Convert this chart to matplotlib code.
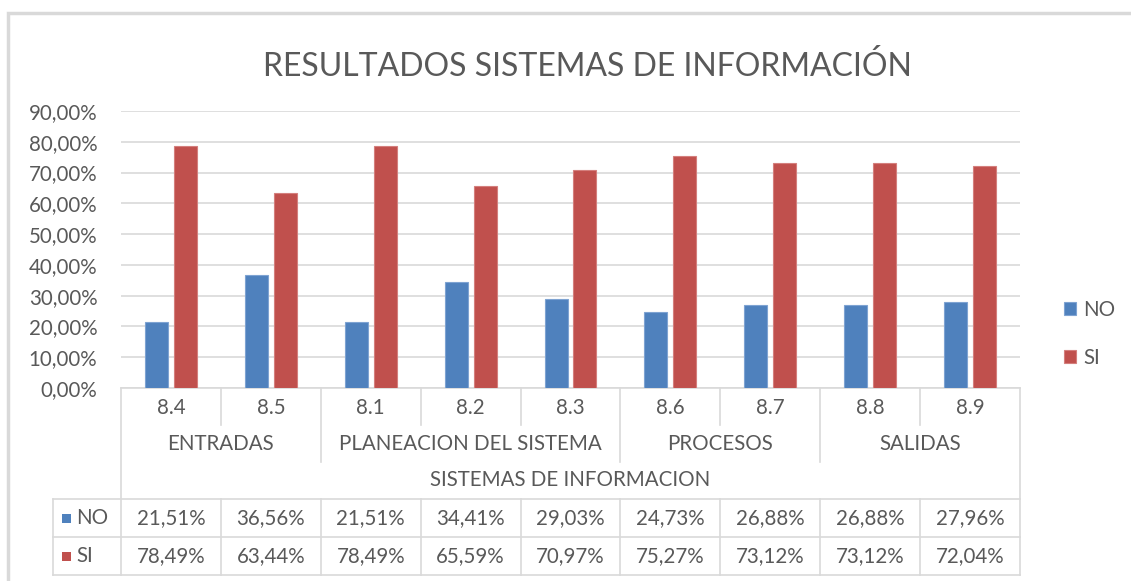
import matplotlib
matplotlib.use("Agg")
import matplotlib.pyplot as plt
import matplotlib.transforms as mtransforms
from matplotlib.patches import Rectangle
import numpy as np

plt.rcParams['font.family'] = ['Lato', 'DejaVu Sans']

# ---- data ----
title = "RESULTADOS SISTEMAS DE INFORMACIÓN"
categories = ["8.4", "8.5", "8.1", "8.2", "8.3", "8.6", "8.7", "8.8", "8.9"]
groups = ["ENTRADAS", "PLANEACION DEL SISTEMA", "PROCESOS", "SALIDAS"]
group_sizes = [2, 3, 2, 2]
top_label = "SISTEMAS DE INFORMACION"
series_names = ["NO", "SI"]
no_values = [21.51, 36.56, 21.51, 34.41, 29.03, 24.73, 26.88, 26.88, 27.96]
si_values = [78.49, 63.44, 78.49, 65.59, 70.97, 75.27, 73.12, 73.12, 72.04]
y_ticks = [0, 10, 20, 30, 40, 50, 60, 70, 80, 90]

# ---- style ----
W, H = 1131, 581
BLUE = "#4F81BD"
RED = "#C0504D"
TXT = "#595959"
GRID = "#D9D9D9"
FS = 14.8

def fx(px):
    return px / W

def fy(py):
    return 1 - py / H

fig = plt.figure(figsize=(W / 100, H / 100), dpi=100)
fig.patch.set_facecolor("white")

# outer chart border
fig.add_artist(Rectangle((fx(8), fy(1000)), 2, fy(13) - fy(1000), transform=fig.transFigure,
                         fill=False, edgecolor=GRID, linewidth=2.5))

ax = fig.add_axes([fx(121), fy(388), fx(1020) - fx(121), fy(111) - fy(388)])
n = len(categories)
x = np.arange(n)
bw = 0.23
off = 0.145
b1 = ax.bar(x - off, np.array(no_values) / 100, bw, color=BLUE, edgecolor="#7EA3D2",
            linewidth=0.8, label=series_names[0], zorder=3)
b2 = ax.bar(x + off, np.array(si_values) / 100, bw, color=RED, edgecolor="#D47F7D",
            linewidth=0.8, label=series_names[1], zorder=3)

ax.set_xlim(-0.5, n - 0.5)
ax.set_ylim(0, 0.9)
ax.set_yticks([v / 100 for v in y_ticks])
ax.set_yticklabels([f"{v:.2f}%".replace(".", ",") for v in y_ticks], color=TXT, fontsize=FS)
ax.tick_params(axis="y", length=0, pad=17)
ax.set_xticks([])
ax.yaxis.grid(True, color=GRID, linewidth=1.2)
ax.set_axisbelow(True)
for s in ["top", "right", "left"]:
    ax.spines[s].set_visible(False)
ax.spines["bottom"].set_color(GRID)
ax.spines["bottom"].set_linewidth(1.2)

# ---- data table below axis ----
blend = mtransforms.blended_transform_factory(ax.transData, fig.transFigure)
colw = 899.0 / n
left_col = -0.5 - (121 - 53) / colw

def vline(xd, y0, y1):
    ax.plot([xd, xd], [fy(y0), fy(y1)], color=GRID, lw=1.2, transform=blend, clip_on=False)

def hline(x0, x1, yp):
    ax.plot([x0, x1], [fy(yp), fy(yp)], color=GRID, lw=1.2, transform=blend, clip_on=False)

# group boundaries
bounds = np.cumsum(group_sizes)[:-1]
for i in range(1, n):
    if i in bounds:
        vline(i - 0.5, 388, 462)
    else:
        vline(i - 0.5, 388, 425)
    vline(i - 0.5, 499, 575)
vline(-0.5, 388, 575)
vline(n - 0.5, 388, 575)
vline(left_col, 499, 575)
for yp in [499, 537, 575]:
    hline(left_col, n - 0.5, yp)

for i, c in enumerate(categories):
    ax.text(i, fy(408), c, ha="center", va="center", color=TXT, fontsize=FS,
            transform=blend)
start = 0
for g, sz in zip(groups, group_sizes):
    ax.text(start + (sz - 1) / 2, fy(444), g, ha="center", va="center", color=TXT,
            fontsize=FS, transform=blend)
    start += sz
ax.text((n - 1) / 2, fy(480), top_label, ha="center", va="center", color=TXT,
        fontsize=FS, transform=blend)

for row, (vals, col, name, yp) in enumerate([(no_values, BLUE, series_names[0], 518),
                                             (si_values, RED, series_names[1], 556)]):
    for i, v in enumerate(vals):
        ax.text(i, fy(yp), f"{v:.2f}%".replace(".", ","), ha="center", va="center",
                color=TXT, fontsize=FS, transform=blend)
    fig.add_artist(Rectangle((fx(62), fy(yp + 4.5)), fx(9), fy(yp - 4.5) - fy(yp + 4.5),
                             transform=fig.transFigure, facecolor=col, edgecolor="none"))
    fig.text(fx(76), fy(yp), name, ha="left", va="center", color=TXT, fontsize=FS)

# ---- legend ----
leg = fig.legend(handles=[b1, b2], labels=series_names, loc="center left",
                 bbox_to_anchor=(fx(1045), fy(334)), frameon=False, fontsize=FS,
                 handlelength=0.6, handleheight=0.6, handletextpad=0.35,
                 labelspacing=1.35, labelcolor=TXT)

# ---- title ----
fig.text(fx(587), fy(66), title, ha="center", va="center", color=TXT, fontsize=23,
         fontweight="normal")

fig.savefig("out.png", dpi=100)
